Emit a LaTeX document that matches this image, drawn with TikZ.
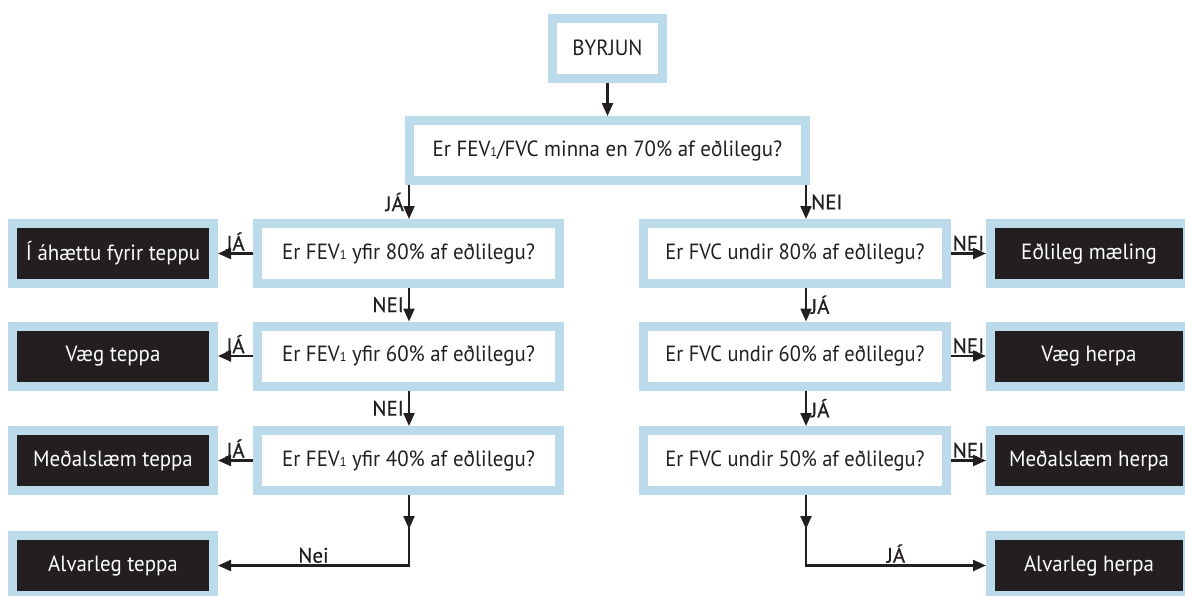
\documentclass[tikz,border=0pt]{standalone}
\usepackage{fontspec}
\setmainfont{PT Sans}[FakeStretch=0.95]
\newfontfamily\narrowf{PT Sans}[FakeStretch=0.93]
\newfontfamily\lblf{PT Sans}[FakeBold=0.6]
\usetikzlibrary{arrows.meta}
\definecolor{lblue}{HTML}{BCDBEA}
\definecolor{dark}{HTML}{231F20}
\newcommand{\myinf}[1]{{\fontsize{13}{13}\selectfont #1}}
\begin{document}
\begin{tikzpicture}[x=1pt,y=-1pt,
  qbox/.style={draw=lblue,line width=9pt,fill=white,text=dark,minimum height=60pt,inner sep=0pt,font=\fontsize{22}{24}\selectfont},
  dbox/.style={draw=lblue,line width=9pt,fill=dark,text=white,minimum height=60pt,inner sep=0pt,font=\fontsize{22}{24}\selectfont},
  arr/.style={draw=dark,line width=2.2pt,-{Triangle[length=13pt,width=11pt]}},
  lbl/.style={text=dark,font=\lblf\fontsize{21}{22}\selectfont,inner sep=1.5pt},
  slbl/.style={lbl,inner xsep=4pt}]
\useasboundingbox (0,0) rectangle (1185,595);
\node[qbox,minimum width=110pt] (start) at (607.5,48) {BYRJUN};
\node[qbox,minimum width=396pt] (q0) at (607.5,150.5) {Er FEV\myinf{1}/FVC minna en 70\% af eðlilegu?};
\node[qbox,minimum width=302pt] (qL1) at (408.5,253.5) {Er FEV\myinf{1} yfir 80\% af eðlilegu?};
\node[qbox,minimum width=302pt] (qL2) at (408.5,356) {Er FEV\myinf{1} yfir 60\% af eðlilegu?};
\node[qbox,minimum width=302pt] (qL3) at (408.5,460.5) {Er FEV\myinf{1} yfir 40\% af eðlilegu?};
\node[qbox,minimum width=303pt] (qR1) at (795,253.5) {\narrowf Er FVC undir 80\% af eðlilegu?};
\node[qbox,minimum width=303pt] (qR2) at (795,356) {\narrowf Er FVC undir 60\% af eðlilegu?};
\node[qbox,minimum width=303pt] (qR3) at (795,460.5) {\narrowf Er FVC undir 50\% af eðlilegu?};
\node[dbox,minimum width=201pt] (bL1) at (113,253.5) {Í áhættu fyrir teppu};
\node[dbox,minimum width=201pt] (bL2) at (113,356) {Væg teppa};
\node[dbox,minimum width=201pt] (bL3) at (113,460.5) {Meðalslæm teppa};
\node[dbox,minimum width=201pt] (bL4) at (113,565.5) {Alvarleg teppa};
\node[dbox,minimum width=197pt] (bR1) at (1089,253.5) {Eðlileg mæling};
\node[dbox,minimum width=197pt] (bR2) at (1089,356) {Væg herpa};
\node[dbox,minimum width=197pt] (bR3) at (1089,460.5) {Meðalslæm herpa};
\node[dbox,minimum width=197pt] (bR4) at (1089,565.5) {Alvarleg herpa};
\coordinate (xL) at (409,0);
\coordinate (xR) at (806,0);
\coordinate (mL) at (409,529);
\coordinate (mR) at (806,529);
% top
\draw[arr] (start.south) -- (q0.north);
\draw[arr] (q0.south -| xL) -- node[slbl,left] {JÁ} (qL1.north -| xL);
\draw[arr] (q0.south -| xR) -- node[slbl,right] {NEI} (qR1.north -| xR);
% left column
\draw[arr] (qL1.south -| xL) -- node[slbl,left] {NEI} (qL2.north -| xL);
\draw[arr] (qL2.south -| xL) -- node[slbl,left] {NEI} (qL3.north -| xL);
\draw[arr] (qL1.west) -- node[lbl,above] {JÁ} (bL1.east);
\draw[arr] (qL2.west) -- node[lbl,above] {JÁ} (bL2.east);
\draw[arr] (qL3.west) -- node[lbl,above] {JÁ} (bL3.east);
\draw[arr] (qL3.south -| xL) -- (mL);
\draw[arr] (qL3.south -| xL) |- node[lbl,above,pos=0.75] {Nei} (bL4.east);
% right column
\draw[arr] (qR1.south -| xR) -- node[slbl,right] {JÁ} (qR2.north -| xR);
\draw[arr] (qR2.south -| xR) -- node[slbl,right] {JÁ} (qR3.north -| xR);
\draw[arr] (qR1.east) -- node[lbl,above] {NEI} (bR1.west);
\draw[arr] (qR2.east) -- node[lbl,above] {NEI} (bR2.west);
\draw[arr] (qR3.east) -- node[lbl,above] {NEI} (bR3.west);
\draw[arr] (qR3.south -| xR) -- (mR);
\draw[arr] (qR3.south -| xR) |- node[lbl,above,pos=0.75] {JÁ} (bR4.west);
\end{tikzpicture}
\end{document}
